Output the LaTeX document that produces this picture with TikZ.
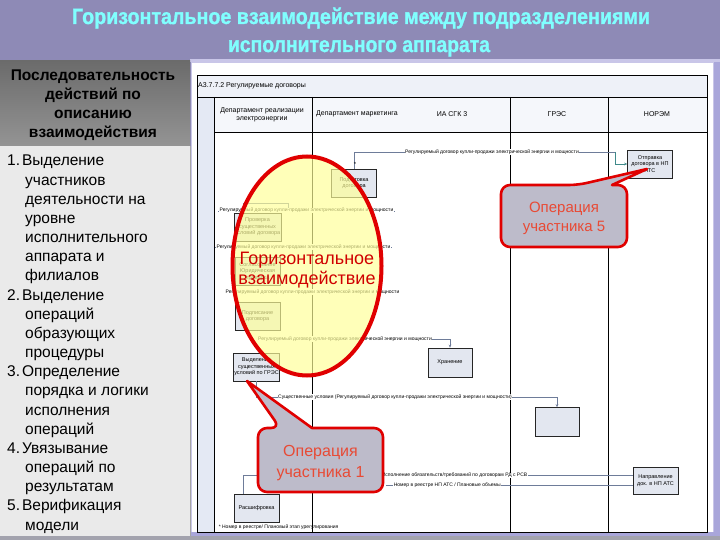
\documentclass[tikz,border=0pt]{standalone}
\usepackage{fontspec}
\usepackage{graphicx}
\setmainfont{Liberation Sans}
\newfontfamily\ttlfont[BoldFeatures={FakeBold=1.3}]{Liberation Sans}
\usetikzlibrary{shapes.geometric,arrows.meta,calc}
\definecolor{titlebg}{HTML}{8E8AB6}
\definecolor{titletext}{HTML}{80FFFF}
\definecolor{lavstrip}{HTML}{A9A6DA}
\definecolor{lavline}{HTML}{C9C6E8}
\definecolor{listbg}{HTML}{EAEAEA}
\definecolor{laneblue}{HTML}{E4E9F4}
\definecolor{hdrfill}{HTML}{EEF1F8}
\definecolor{boxfill}{HTML}{E3E7F0}
\definecolor{linec}{HTML}{6E7C99}
\definecolor{tealc}{HTML}{3F8A8A}
\definecolor{calloutfill}{HTML}{BDBBCA}
\definecolor{calloutred}{HTML}{E00000}
\definecolor{callouttext}{HTML}{E84A35}
\definecolor{ellfill}{HTML}{FFFF99}
\definecolor{ellred}{HTML}{E00000}
\definecolor{elltext}{HTML}{D00000}
\definecolor{bottomgray}{HTML}{A3A3AE}
\begin{document}
\begin{tikzpicture}[x=1pt,y=-1pt,
  hdrtxt/.style={font=\fontsize{7}{8.5}\selectfont, align=center, inner sep=0},
  procbox/.style={draw=black!85, line width=0.6pt, fill=boxfill, minimum width=45pt, minimum height=28pt, inner sep=0.5pt, font=\fontsize{5.5}{6.4}\selectfont, align=center},
  conn/.style={draw=linec, line width=0.6pt},
  arr/.style={-{Stealth[length=3pt,width=2.6pt]}},
  lbl/.style={fill=white, inner sep=0.6pt, font=\fontsize{5}{6}\selectfont},
  callout/.style={fill=calloutfill, draw=calloutred, line width=2.6pt, line join=round},
  callouttxt/.style={text=callouttext, align=center, inner sep=0},
  listline/.style={anchor=base west, inner sep=0, font=\fontsize{15.5}{19}\selectfont},
  hdrline/.style={anchor=base, inner sep=0, font=\fontsize{15.5}{19}\selectfont\bfseries},
  lanes/.style={draw=black, line width=0.7pt}
]
\useasboundingbox (0,0) rectangle (720,540);
% ---------- backgrounds ----------
\fill[titlebg] (0,0) rectangle (720,540);
\fill[lavline] (190,59) rectangle (720,62);
\fill[white] (191,62) rectangle (714,533);
\draw[lavline, line width=1.2pt] (191.5,62.5) rectangle (713.5,532.5);
\fill[lavstrip] (714,62) rectangle (720,537);
\fill[lavstrip] (190,532) rectangle (720,537);
\fill[bottomgray] (0,536) rectangle (720,540);
% left header and list
\shade[top color=black!58, middle color=black!10, bottom color=black!42] (0,61) rectangle (190,146);
\fill[listbg] (0,146) rectangle (190,536);
\draw[black!35, line width=0.6pt] (190,146) -- (190,536);
% ---------- title ----------
\node[anchor=base, text=titletext, inner sep=0] (title1) at (361,24)
  {\resizebox{578pt}{\height}{\fontsize{22}{22}\selectfont\ttlfont\bfseries Горизонтальное взаимодействие между подразделениями}};
\node[anchor=base, text=titletext, inner sep=0] (title2) at (359,52)
  {\resizebox{262pt}{\height}{\fontsize{22}{22}\selectfont\ttlfont\bfseries исполнительного аппарата}};
% ---------- left header ----------
\node[hdrline] (h1) at (93,81) {Последовательность};
\node[hdrline] (h2) at (93,100) {действий по};
\node[hdrline] (h3) at (93,118.5) {описанию};
\node[hdrline] (h4) at (93,137.5) {взаимодействия};
% ---------- left list ----------
\foreach \xx/\txt [count=\i from 0] in {
  7/{1.\kern2pt Выделение}, 25/участников, 25/{деятельности на}, 25/уровне, 25/исполнительного,
  25/{аппарата и}, 25/филиалов, 7/{2.\kern2pt Выделение}, 25/операций, 25/образующих,
  25/процедуры, 7/{3.\kern2pt Определение}, 25/{порядка и логики}, 25/исполнения, 25/операций,
  7/{4.\kern2pt Увязывание}, 25/{операций по}, 25/результатам, 7/{5.\kern2pt Верификация}, 25/модели}
{
  \node[listline] (li\i) at (\xx,166+19.16*\i) {\txt};
}
% ---------- swimlane frame ----------
\fill[hdrfill] (197,75) rectangle (707,97);
\fill[hdrfill!60!white] (214,97) rectangle (707,132);
\fill[laneblue] (197,97) rectangle (214,532);
\draw[lanes] (197,75) rectangle (707,532);
\draw[lanes] (197,97) -- (707,97);
\draw[lanes] (214,132) -- (707,132);
\draw[lanes] (214,97) -- (214,532);
\draw[lanes] (312,97) -- (312,532);
\draw[lanes] (510,97) -- (510,532);
\draw[lanes] (608,97) -- (608,532);
\node[hdrtxt, anchor=west] (tabtitle) at (198,86) {А3.7.7.2 Регулируемые договоры};
\node[hdrtxt] (col1) at (262,115) {Департамент реализации\\электроэнергии};
\node[hdrtxt, anchor=west] (col2) at (316,114) {Департамент маркетинга};
\node[hdrtxt] (col2b) at (452,114) {ИА СГК 3};
\node[hdrtxt] (col3) at (557,114) {ГРЭС};
\node[hdrtxt] (col4) at (657,114) {НОРЭМ};
% ---------- process boxes ----------
\node[procbox] (b1) at (354,183) {Подготовка\\договора};
\node[procbox] (b2) at (257.5,227) {Проверка\\существенных\\условий договора};
\node[procbox] (b3) at (257.5,271.5) {Согласование\\Юридическая\\проверка};
\node[procbox] (b4) at (257.5,316) {Подписание\\договора};
\node[procbox] (b5) at (256.5,367) {Выделение\\существенных\\условий по ГРЭС};
\node[procbox, minimum width=44pt, minimum height=29pt] (b6) at (450,362.5) {Хранение};
\node[procbox, minimum width=44pt, minimum height=29pt] (b7) at (557,422) {};
\node[procbox, minimum height=27pt] (b8) at (655.5,480.5) {Направление\\док. в НП АТС};
\node[procbox] (b9) at (650,164) {Отправка\\договора в НП\\АТС};
\node[procbox] (b10) at (256.5,508) {Расшифровка};
% ---------- connectors ----------
\coordinate (c1) at (615,152);
\draw[conn] (b1.north) |- (c1);
\draw[conn, draw=tealc, arr] (c1) |- (b9.west);
\node[lbl] (l1) at (492,152) {Регулируемый договор купли-продажи электрической энергии и мощности};
\node[font=\fontsize{6}{6}\selectfont, inner sep=0] (star1) at (355,164) {*};

\coordinate (c2a) at (218,211);
\coordinate (c2b) at (395,211);
\coordinate (c2c) at (288,211);
\coordinate (c2d) at (243,203);
\draw[conn] (c2a) -- (c2b);
\draw[conn] (c2c) |- (c2d);
\draw[conn] (c2d) -- (c2d |- b2.north);
\node[lbl] (l2) at (306.5,210.5) {Регулируемый договор купли-продажи электрической энергии и мощности};

\coordinate (c3a) at (215,247);
\coordinate (c3b) at (392,247);
\draw[conn] (c3a) -- (c3b);
\node[lbl] (l3) at (303.5,247) {Регулируемый договор купли-продажи электрической энергии и мощности};

\coordinate (c4a) at (225,292);
\coordinate (c4b) at (400,292);
\draw[conn] (c4a) -- (c4b);
\node[lbl] (l4) at (312.5,292) {Регулируемый договор купли-продажи электрической энергии и мощности};

\coordinate (c5a) at (258,339);
\coordinate (c5b) at (450,339);
\draw[conn] (c5a) -- (c5b);
\draw[conn, arr] (c5b) -- (b6.north);
\node[lbl] (l5) at (345,339) {Регулируемый договор купли-продажи электрической энергии и мощности};

\coordinate (c6) at (557,397);
\draw[conn] (b5.south) |- (c6);
\draw[conn, arr] (c6) -- (b7.north);
\node[lbl] (l6) at (395,397) {Существенные условия (Регулируемый договор купли-продажи электрической энергии и мощности)};

\coordinate (c7a) at (243,475.5);
\coordinate (c7b) at (633,475.5);
\draw[conn] (c7a) -- (c7b);
\draw[conn] (c7a) -- (c7a |- b10.north);
\node[lbl, anchor=east] (l7) at (528,475.5) {Исполнение обязательств/требований по договорам РД с РСВ};

\coordinate (c8a) at (386,485);
\coordinate (c8b) at (633,485);
\draw[conn] (c8a) -- (c8b);
\node[lbl, anchor=west] (l8) at (393,485) {Номер в реестре НП АТС / Плановые объемы};

\node[lbl, anchor=west, fill=none] (foot) at (218,527) {* Номер в реестре/ Плановый этап урегулирования};
% ---------- ellipse ----------
\node[ellipse, draw=ellred, line width=4pt, fill=ellfill, fill opacity=0.68, draw opacity=1,
      minimum width=149pt, minimum height=219pt, inner sep=0] (ell) at (307,266) {};
\node[text=elltext, align=center, inner sep=0, anchor=base, font=\fontsize{18}{20}\selectfont] (elltxt) at (307,284)
  {Горизонтальное\\взаимодействие};
% ---------- callout 5 ----------
\filldraw[callout] (501,216) [rounded corners=9pt] |- (578,185) [sharp corners] -- (647,169) -- (612,185) -- (618,185)
   [rounded corners=9pt] -| (627,247) -- (501,247) -- cycle;
\node[callouttxt, anchor=base, font=\fontsize{15}{20}\selectfont] (op5) at (564,232) {Операция\\участника 5};
% ---------- callout 1 ----------
\filldraw[callout] (258,460) [rounded corners=9pt] |- (280,428) [sharp corners] -- (247,381) -- (312,428) -- (318,428)
   [rounded corners=9pt] -| (383,492) -- (258,492) -- cycle;
\node[callouttxt, anchor=base, font=\fontsize{16}{21}\selectfont] (op1) at (320.5,477) {Операция\\участника 1};
\end{tikzpicture}
\end{document}
